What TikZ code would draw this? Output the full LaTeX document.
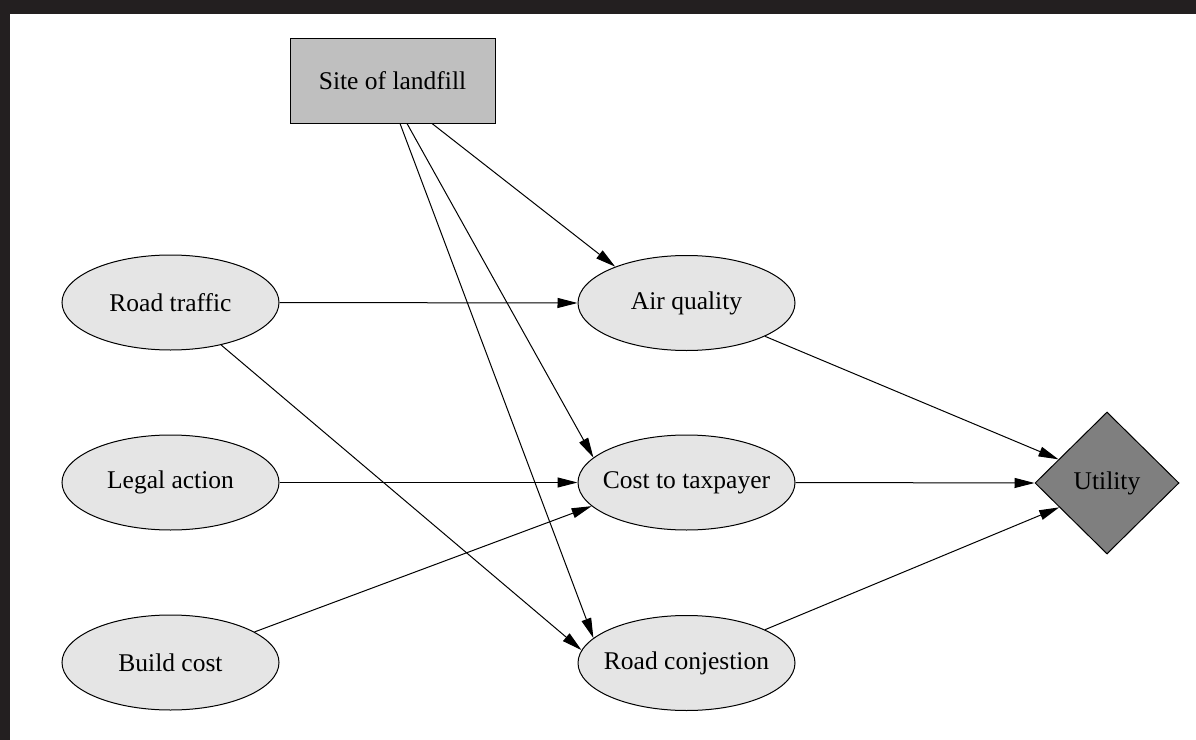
\documentclass[tikz,border=0pt]{standalone}
\usepackage{fontspec}
\setmainfont{Liberation Serif}
\usetikzlibrary{shapes.geometric,arrows.meta}
\definecolor{framecol}{RGB}{35,31,32}
\definecolor{ellfill}{RGB}{229,229,229}
\definecolor{boxfill}{RGB}{191,191,191}
\definecolor{dmdfill}{RGB}{127,127,127}
\newcommand\ztxt[1]{\makebox[0pt]{#1}}
\begin{document}
\begin{tikzpicture}[x=1bp,y=-1bp,
  every node/.style={font=\fontsize{25.6}{30}\selectfont},
  chance/.style={ellipse,draw,fill=ellfill,line width=1bp,minimum width=217bp,minimum height=95bp,inner sep=0pt},
  decision/.style={rectangle,draw,fill=boxfill,line width=1bp,minimum width=205bp,minimum height=84bp,inner sep=0pt},
  utilnode/.style={diamond,draw,fill=dmdfill,line width=1bp,minimum width=144bp,minimum height=142bp,inner sep=0pt},
  link/.style={line width=1bp,-{Triangle[length=20bp,width=10bp]}}]
\useasboundingbox (0,0) rectangle (1196,740);
\fill[white] (0,0) rectangle (1196,740);
\fill[framecol] (0,0) rectangle (1196,14);
\fill[framecol] (0,0) rectangle (10,740);

\node[decision] (site) at (392.5,81) {Site of landfill};
\node[chance] (rt) at (170.5,302.5) {\ztxt{Road traffic}};
\node[chance] (la) at (170.5,482.5) {\ztxt{Legal action}};
\node[chance] (bc) at (170.5,662.5) {\ztxt{Build cost}};
\node[chance] (aq) at (686.5,303) {\ztxt{Air quality}};
\node[chance] (ct) at (686.5,482.5) {\ztxt{Cost to taxpayer}};
\node[chance] (rc) at (686.5,663) {\ztxt{Road conjestion}};
\node[utilnode] (u) at (1107,483) {Utility};

\draw[link] ([xshift=39.5bp]site.south) -- (aq.153);
\draw[link] ([xshift=14.5bp]site.south) -- (ct.165);
\draw[link] ([xshift=7.5bp]site.south) -- (rc.165);
\draw[link] (rt.east) -- (aq.west);
\draw[link] (rt.-40) -- (rc.173);
\draw[link] (la.east) -- (ct.west);
\draw[link] (bc.20) -- (ct.194);
\draw[link] (aq.-23) -- (u.154);
\draw[link] (ct.east) -- (u.west);
\draw[link] (rc.23) -- (u.207);
\end{tikzpicture}
\end{document}
